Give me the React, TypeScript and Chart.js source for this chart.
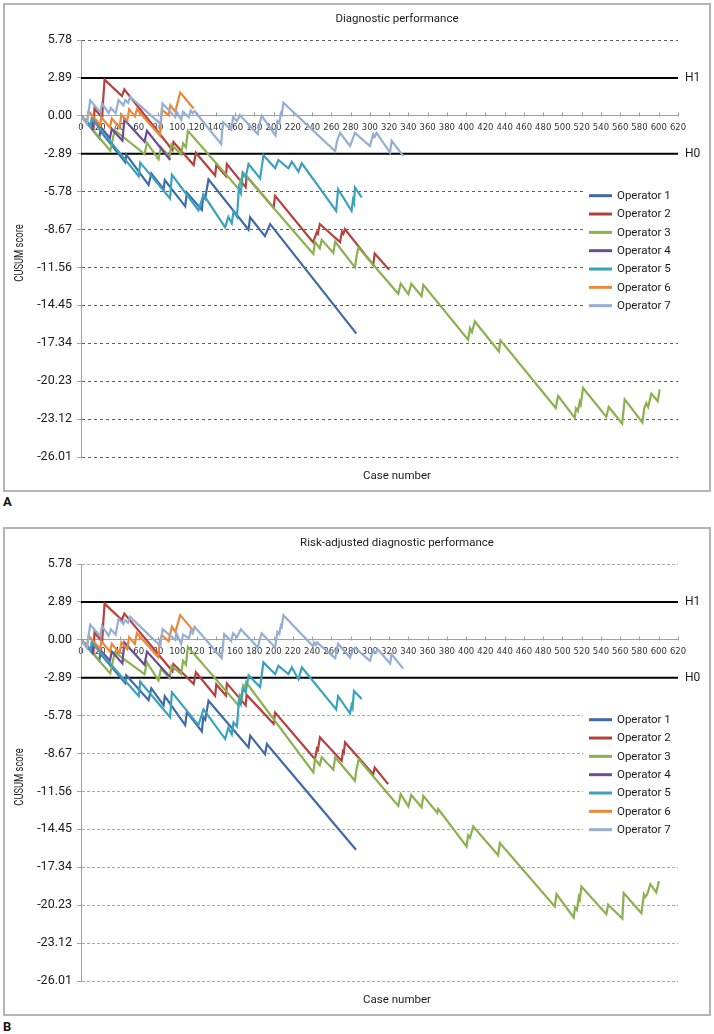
import React, { useEffect, useRef } from 'react';
import { Chart, registerables } from 'chart.js';

Chart.register(...registerables);

type P = [number, number];

// ---------- labels, ticks, thresholds ----------
const OPERATORS = ['Operator 1', 'Operator 2', 'Operator 3', 'Operator 4', 'Operator 5', 'Operator 6', 'Operator 7'];
const COLORS = ['#3E6AAA', '#B5403D', '#8BB04F', '#6B4C9A', '#3BA2BB', '#E9883A', '#95AED3'];
const Y_TICKS = [5.78, 2.89, 0, -2.89, -5.78, -8.67, -11.56, -14.45, -17.34, -20.23, -23.12, -26.01];
const X_TICKS = [0, 20, 40, 60, 80, 100, 120, 140, 160, 180, 200, 220, 240, 260, 280, 300, 320, 340, 360, 380, 400, 420, 440, 460, 480, 500, 520, 540, 560, 580, 600, 620];
const X_MIN = 0;
const X_MAX = 620;
const H1 = 2.89;
const H0 = -2.89;
const TITLE_A = 'Diagnostic performance';
const TITLE_B = 'Risk-adjusted diagnostic performance';
const X_TITLE = 'Case number';
const Y_TITLE = 'CUSUM score';

// ---------- Panel A: diagnostic performance (case number, CUSUM) ----------
const A_OP1: P[] = [[0,0],[19,-1.7],[20,-1.15],[46,-3.55],[47,-2.95],[70.2,-5.27],[73,-4.39],[85.8,-5.6],[87,-4.9],[108.2,-6.9],[110,-5.85],[125.5,-7.17],[127,-6.1],[129,-6.3],[132.4,-4.85],[174,-8.69],[175.6,-7.74],[191,-9.17],[196.4,-8.25],[286,-16.6]];
const A_OP2: P[] = [[0,0],[13,-0.95],[14,0.55],[22,-0.15],[23,1.2],[24.5,2.75],[42.5,1.5],[45,2.0],[95,-2.6],[96,-2.0],[117,-3.75],[119.3,-2.81],[139.3,-4.55],[140.5,-3.75],[150.5,-4.6],[151.5,-3.68],[171,-5.45],[172,-4.6],[200,-7.0],[201.6,-6.1],[241,-9.64],[244.8,-8.88],[246,-9.0],[248,-8.25],[269,-9.63],[271,-8.85],[272.5,-9.0],[274,-8.63],[303.5,-11.37],[305,-10.5],[320,-11.73]];
const A_OP3: P[] = [[0,0],[30.4,-2.66],[35,-1.1],[66,-2.92],[68.5,-2.05],[80.5,-3.32],[83,-2.4],[92,-3.1],[94,-2.2],[104,-2.95],[106,-2.1],[109,-2.4],[111,-1.14],[164,-5.6],[165.5,-4.9],[166.5,-5.0],[168,-4.3],[241.3,-10.53],[243,-9.6],[248,-10.1],[250,-9.45],[262,-10.45],[264,-9.6],[284.5,-11.55],[286,-10.8],[288,-10.03],[329.5,-13.57],[332,-12.8],[340,-13.6],[343,-12.8],[353.7,-13.75],[355.5,-12.89],[402,-17.07],[404,-16.2],[406,-16.5],[409,-15.68],[434,-17.96],[435.7,-17.12],[493,-22.27],[495.5,-21.35],[512.8,-23.03],[514,-22.3],[516,-22.5],[518,-21.8],[519,-22.0],[521.4,-20.75],[545.6,-22.95],[548,-22.2],[562,-23.46],[564.6,-21.61],[583,-23.38],[585,-22.3],[587,-21.9],[589,-22.2],[592.3,-21.18],[599,-21.76],[601,-20.85]];
const A_OP4: P[] = [[0,0],[12,-1.0],[13,-0.2],[30,-1.7],[32,-1.0],[43,-1.9],[45,-0.3],[66,-1.98],[68.5,-1.14],[92.7,-3.37]];
const A_OP5: P[] = [[0,0],[10,-0.85],[11,-0.2],[60,-4.6],[61.5,-3.57],[92.5,-6.3],[94.4,-4.5],[122,-7.2],[127.2,-6.0],[149.7,-8.5],[153,-7.7],[156.6,-8.2],[158.4,-7.3],[162,-7.7],[164,-5.5],[166,-5.9],[168,-4.4],[171,-4.7],[174,-3.68],[186,-4.77],[189.5,-3.0],[201.6,-4.0],[205,-3.37],[215.4,-4.0],[218.9,-3.5],[225.8,-4.26],[229.3,-3.62],[265,-7.25],[267,-5.6],[281,-7.24],[282.5,-6.4],[283.5,-6.6],[284.5,-5.46],[291.5,-6.22]];
const A_OP6: P[] = [[0,0],[6,-0.55],[8,0.35],[20,-0.7],[21,-0.1],[30,-0.9],[32,-0.2],[40,-0.9],[42,0.1],[48,-0.4],[50,0.5],[56,-0.05],[58,0.5],[82,-1.5],[84,0.45],[91,0.05],[92.7,0.81],[97.9,0.3],[103,1.77],[116.9,0.56]];
const A_OP7: P[] = [[0,0],[6,-0.6],[9.6,1.2],[20,0.25],[21.8,0.94],[28.7,0.2],[31,0.6],[36,0.2],[39,1.2],[44,0.8],[46,1.2],[49,1.0],[51,1.44],[82.3,-0.6],[84.7,0.94],[97.9,-0.1],[99,0.35],[104,-0.3],[106,0.3],[112,-0.1],[114,0.4],[116,0.2],[118,0.35],[145.5,-2.15],[147.5,-0.5],[156,-1.05],[158,-0.1],[162,-0.4],[165,0.05],[183.6,-1.4],[185.5,-0.6],[187.7,0.0],[202,-1.5],[204,-0.4],[206,-0.55],[207.5,0.2],[208.5,0.1],[210.2,1.0],[264,-2.7],[266,-1.9],[269,-1.3],[279.4,-2.3],[282,-1.8],[284.5,-1.3],[300,-2.3],[303.5,-1.4],[305,-1.6],[307,-1.3],[320.9,-2.8],[322.6,-1.9],[334.6,-3.06]];

// ---------- Panel B: risk-adjusted diagnostic performance ----------
const B_OP1: P[] = [[0,0],[19,-1.6],[20,-1.05],[46,-3.3],[47,-2.7],[70.2,-4.6],[73,-3.7],[85.8,-5.0],[87,-4.3],[108.2,-6.5],[110,-5.5],[125.5,-6.98],[127,-5.9],[129,-6.1],[132.4,-4.65],[174,-8.2],[175.7,-7.3],[191.2,-8.72],[193,-7.94],[285.6,-16.0]];
const B_OP2: P[] = [[0,0],[13,-0.95],[14,0.55],[22,-0.15],[23,1.2],[24.5,2.75],[42.5,1.5],[45,2.0],[95,-2.4],[96,-1.85],[117,-3.37],[119.3,-2.48],[139.3,-4.26],[140.5,-3.4],[150.5,-4.25],[151.5,-3.32],[171,-5.0],[172,-4.2],[200,-6.4],[201.6,-5.54],[243,-9.1],[245,-8.3],[246,-8.4],[248.2,-7.44],[270.7,-9.23],[272,-8.5],[273,-8.6],[274.2,-7.82],[303.5,-10.24],[305,-9.73],[319,-11.0]];
const B_OP3: P[] = [[0,0],[30.4,-2.56],[35,-0.96],[66,-2.61],[68.5,-1.72],[80.5,-3.1],[83,-2.2],[92,-2.9],[94,-2.0],[104,-2.6],[106,-1.6],[109,-1.9],[111,-0.53],[163.6,-5.0],[165,-4.2],[167,-4.4],[168.5,-3.5],[170,-3.7],[171.5,-3.24],[241.3,-10.11],[243,-9.1],[248,-9.55],[250,-8.95],[262,-9.9],[264,-8.95],[284.5,-10.75],[286,-9.9],[288.4,-9.1],[329.5,-12.66],[332,-11.77],[340,-12.7],[343,-11.83],[353.7,-12.77],[355.5,-11.9],[370,-13.2],[371,-12.9],[400.4,-15.75],[402,-14.9],[404,-15.1],[407.3,-14.23],[433.2,-16.42],[435,-15.5],[492,-20.33],[493.8,-19.39],[511.7,-21.17],[513,-20.4],[515,-20.6],[517,-19.6],[518,-19.8],[519.7,-18.8],[545.6,-20.92],[547.5,-20.2],[562.2,-21.24],[563.6,-19.31],[582,-20.84],[584.6,-19.4],[586,-19.6],[588,-19.4],[591.3,-18.63],[597.5,-19.26],[600.2,-18.38]];
const B_OP4: P[] = [[0,0],[12,-1.0],[13,-0.2],[30,-1.6],[32,-0.9],[43,-1.8],[45,-0.2],[66,-1.9],[68.5,-0.9],[92.7,-2.85]];
const B_OP5: P[] = [[0,0],[10,-0.8],[11,-0.2],[60,-4.3],[61.5,-3.2],[92.5,-5.9],[94.4,-4.0],[122,-6.5],[127.2,-5.3],[149.7,-7.55],[153,-6.7],[156.6,-7.2],[158.4,-6.3],[162,-6.6],[164,-4.6],[166,-4.9],[168,-3.7],[171,-4.0],[174,-2.7],[186,-3.6],[189.4,-1.72],[201.6,-2.61],[205,-1.98],[215.4,-2.61],[218.9,-2.1],[225.8,-3.0],[229.3,-2.1],[265,-5.3],[267,-4.3],[279.4,-5.6],[281,-5.0],[282,-5.2],[283.5,-3.9],[291.5,-4.52]];
const B_OP6: P[] = [[0,0],[6,-0.55],[8,0.3],[20,-0.7],[21,-0.1],[30,-0.9],[32,-0.3],[40,-1.0],[42,-0.2],[48,-0.7],[50,0.2],[56,-0.3],[58,0.5],[80,-1.3],[82,-0.1],[84,0.35],[91,-0.1],[94.4,0.99],[98,0.6],[103,1.88],[116.9,0.68]];
const B_OP7: P[] = [[0,0],[6,-0.6],[9.6,1.15],[20,0.3],[21.8,1.06],[28.7,0.3],[31,0.8],[36,0.4],[39,1.6],[44,1.2],[46,1.5],[49,1.3],[51,1.75],[82.3,-0.46],[84.7,0.81],[97.9,0.0],[99,0.5],[104,-0.3],[106,0.4],[112,0.1],[114,0.7],[116,0.5],[118,0.99],[146,-1.39],[148.7,0.43],[156,-0.1],[158,0.5],[162,0.2],[166,0.81],[183.6,-0.58],[185.5,0.0],[187.7,0.5],[201.6,-0.58],[204,0.6],[206,0.45],[207.5,1.1],[208.5,1.0],[210.2,1.88],[241,-0.5],[242,-0.2],[244,-0.4],[245,-0.2],[264,-1.4],[267,-0.3],[279.4,-1.35],[282,-0.8],[284.5,-0.6],[300,-1.6],[303.5,-0.8],[306,-1.0],[308,-0.7],[321,-1.8],[322.6,-1.1],[334.6,-2.2]];

const SERIES_A = [A_OP1, A_OP2, A_OP3, A_OP4, A_OP5, A_OP6, A_OP7];
const SERIES_B = [B_OP1, B_OP2, B_OP3, B_OP4, B_OP5, B_OP6, B_OP7];

// ---------- layout ----------
const CW = 708;
const CH = 489;
const TEXT = '#1a1a1a';
const FONT = 'Roboto, "Noto Sans", sans-serif';
const LEG_X = 586;
const LEG_Y = 192.7;
const LEG_ROW = 18.33;

function decor(title: string) {
  return {
    id: 'decor',
    beforeDatasetsDraw(chart: any) {
      const { ctx, chartArea } = chart;
      ctx.save();
      ctx.fillStyle = '#ffffff';
      ctx.fillRect(LEG_X - 6, LEG_Y - 11, chartArea.right - (LEG_X - 6) + 1, LEG_ROW * 6 + 22);
      ctx.restore();
    },
    afterDraw(chart: any) {
      const { ctx, chartArea, scales } = chart;
      const xs = scales.x;
      const ys = scales.y;
      ctx.save();
      // upward tick marks on the x axis (drawn at y = 0)
      const y0 = Math.round(ys.getPixelForValue(0)) + 0.5;
      ctx.strokeStyle = '#9a9a9a';
      ctx.lineWidth = 1;
      xs.ticks.forEach((t: any) => {
        const px = Math.round(xs.getPixelForValue(t.value)) + 0.5;
        ctx.beginPath();
        ctx.moveTo(px, y0 - 4);
        ctx.lineTo(px, y0);
        ctx.stroke();
      });
      // legend
      ctx.font = `11.5px ${FONT}`;
      ctx.textBaseline = 'middle';
      ctx.textAlign = 'left';
      chart.data.datasets.forEach((ds: any, i: number) => {
        if (ds.isThreshold) return;
        const yy = LEG_Y + i * LEG_ROW;
        ctx.strokeStyle = ds.borderColor;
        ctx.lineWidth = 3;
        ctx.beginPath();
        ctx.moveTo(LEG_X, yy);
        ctx.lineTo(LEG_X + 23, yy);
        ctx.stroke();
        ctx.fillStyle = TEXT;
        ctx.fillText(ds.label, LEG_X + 28, yy + 0.5);
      });
      // threshold labels
      ctx.font = `12px ${FONT}`;
      chart.data.datasets.forEach((ds: any) => {
        if (!ds.isThreshold) return;
        ctx.fillStyle = TEXT;
        ctx.fillText(ds.label, chartArea.right + 7, ys.getPixelForValue(ds.data[0].y) + 0.5);
      });
      // title and axis titles
      ctx.textAlign = 'center';
      ctx.font = `11.5px ${FONT}`;
      ctx.fillText(title, 394, 16.5);
      ctx.fillText(X_TITLE, 394, 473);
      ctx.save();
      ctx.translate(17, 250);
      ctx.rotate(-Math.PI / 2);
      ctx.scale(0.72, 1);
      ctx.font = `13px ${FONT}`;
      ctx.fillText(Y_TITLE, 0, 0);
      ctx.restore();
      // panel frame
      ctx.strokeStyle = '#b4b4b4';
      ctx.lineWidth = 2;
      ctx.strokeRect(1, 1, CW - 2, CH - 2);
      ctx.restore();
    },
  };
}

function Panel({ title, series, top, gridColor, dash }: { title: string; series: P[][]; top: number; gridColor: string; dash: number[] }) {
  const ref = useRef<HTMLCanvasElement>(null);
  useEffect(() => {
    const datasets: any[] = series.map((s, i) => ({
      label: OPERATORS[i],
      data: s.map(([x, y]) => ({ x, y })),
      borderColor: COLORS[i],
      backgroundColor: COLORS[i],
      borderWidth: 2.2,
      pointRadius: 0,
      tension: 0,
      fill: false,
      order: 7 - i,
    }));
    [H1, H0].forEach((h, j) => {
      datasets.push({
        label: j === 0 ? 'H1' : 'H0',
        isThreshold: true,
        data: [{ x: X_MIN, y: h }, { x: X_MAX, y: h }],
        borderColor: '#000000',
        backgroundColor: '#000000',
        borderWidth: 2,
        pointRadius: 0,
        fill: false,
        order: 100,
      });
    });
    const chart = new Chart(ref.current as HTMLCanvasElement, {
      type: 'line',
      data: { datasets },
      options: {
        animation: false,
        responsive: false,
        devicePixelRatio: 1,
        events: [],
        layout: { padding: { top: 37, right: 33, bottom: 35, left: 0 } },
        plugins: { legend: { display: false }, title: { display: false }, tooltip: { enabled: false } },
        scales: {
          x: {
            type: 'linear',
            min: X_MIN,
            max: X_MAX,
            position: { y: 0 } as any,
            afterBuildTicks: (s: any) => { s.ticks = X_TICKS.map((v) => ({ value: v })); },
            ticks: { autoSkip: false, maxRotation: 0, minRotation: 0, padding: 7, color: '#333', font: { family: '"DejaVu Sans", sans-serif', size: 8.5 } },
            grid: { display: false, drawTicks: false },
            border: { display: true, color: '#a0a0a0', width: 1 },
          },
          y: {
            type: 'linear',
            min: -26.01,
            max: 5.78,
            afterBuildTicks: (s: any) => { s.ticks = Y_TICKS.map((v) => ({ value: v })); },
            afterFit: (s: any) => { s.width = 78; },
            ticks: { padding: 5, color: TEXT, font: { family: FONT, size: 12.5 }, callback: (v: any) => Number(v).toFixed(2) },
            grid: {
              color: (c: any) => (c.tick && Math.abs(c.tick.value) < 1e-9 ? 'rgba(0,0,0,0)' : gridColor),
              tickColor: '#a0a0a0',
              tickLength: 4,
              lineWidth: 1,
            },
            border: { display: true, color: '#a0a0a0', width: 1, dash },
          },
        },
      } as any,
      plugins: [decor(title)],
    });
    return () => chart.destroy();
  }, []);
  return <canvas ref={ref} width={CW} height={CH} style={{ position: 'absolute', left: 3, top, width: CW, height: CH }} />;
}

export default function App() {
  const labelStyle: React.CSSProperties = { position: 'absolute', left: 3, fontFamily: FONT, fontWeight: 700, fontSize: 13, lineHeight: '16px', color: '#111' };
  return (
    <div style={{ position: 'absolute', left: 0, top: 0, width: 714, height: 1034, background: '#fff' }}>
      <Panel title={TITLE_A} series={SERIES_A} top={3} gridColor="#5c5c5c" dash={[3, 3]} />
      <div style={{ ...labelStyle, top: 494 }}>A</div>
      <Panel title={TITLE_B} series={SERIES_B} top={527} gridColor="#a9a9a9" dash={[3, 2]} />
      <div style={{ ...labelStyle, top: 1019 }}>B</div>
    </div>
  );
}
